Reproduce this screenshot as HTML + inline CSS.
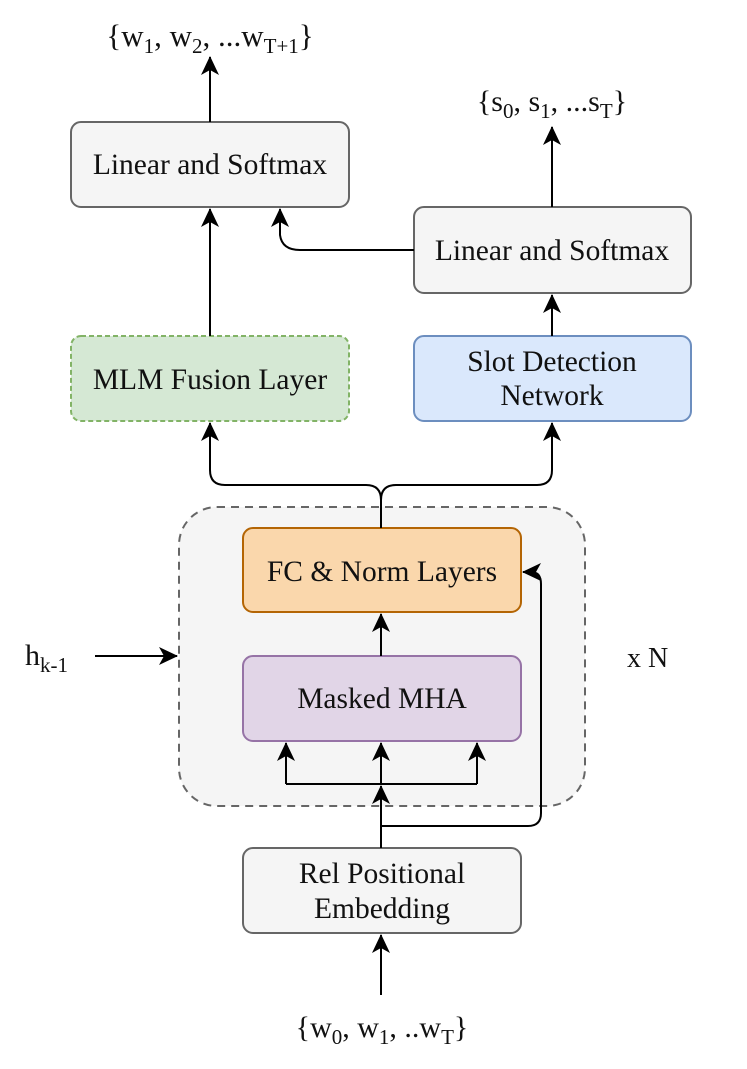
<!DOCTYPE html>
<html><head><meta charset="utf-8"><style>
body{margin:0;background:#fff;}
svg text{font-family:"Liberation Serif",serif;font-size:29.5px;fill:#111;}
</style></head><body>
<svg width="747" height="1064" viewBox="0 0 747 1064" xmlns="http://www.w3.org/2000/svg">
<defs>
<marker id="b" markerWidth="20" markerHeight="20" refX="18" refY="10" orient="auto" markerUnits="userSpaceOnUse" viewBox="0 0 20 20">
<path d="M0,1 L19,10 L0,19 L5,10 Z" fill="#000"/>
</marker>
</defs>
<rect x="179" y="507" width="406" height="299" rx="38" fill="#f5f5f5" stroke="#666" stroke-width="2" stroke-dasharray="8,6"/>
<rect x="71" y="122" width="278" height="85" rx="10" fill="#f5f5f5" stroke="#666" stroke-width="2"/>
<text x="210" y="174" text-anchor="middle" fill="#333">Linear and Softmax</text>
<rect x="414" y="207" width="277" height="86" rx="10" fill="#f5f5f5" stroke="#666" stroke-width="2"/>
<text x="552" y="260" text-anchor="middle" fill="#333">Linear and Softmax</text>
<rect x="71" y="336" width="278" height="85" rx="10" fill="#d5e8d4" stroke="#82b366" stroke-width="2" stroke-dasharray="5,3"/>
<text x="210" y="389" text-anchor="middle">MLM Fusion Layer</text>
<rect x="414" y="336" width="277" height="85" rx="10" fill="#dae8fc" stroke="#6c8ebf" stroke-width="2"/>
<text x="552" y="371" text-anchor="middle">Slot Detection</text>
<text x="552" y="405" text-anchor="middle">Network</text>
<rect x="243" y="528" width="278" height="84" rx="10" fill="#fad7ac" stroke="#b46504" stroke-width="2"/>
<text x="382" y="581" text-anchor="middle">FC &amp; Norm Layers</text>
<rect x="243" y="656" width="278" height="85" rx="10" fill="#e1d5e7" stroke="#9673a6" stroke-width="2"/>
<text x="382" y="708" text-anchor="middle">Masked MHA</text>
<rect x="243" y="848" width="278" height="85" rx="10" fill="#f5f5f5" stroke="#666" stroke-width="2"/>
<text x="382" y="883" text-anchor="middle" fill="#333">Rel Positional</text>
<text x="382" y="918" text-anchor="middle" fill="#333">Embedding</text>
<g fill="none" stroke="#000" stroke-width="2">
<path d="M210 122 V57" marker-end="url(#b)"/>
<path d="M552 207 V127" marker-end="url(#b)"/>
<path d="M210 336 V209" marker-end="url(#b)"/>
<path d="M552 336 V295" marker-end="url(#b)"/>
<path d="M414 250 H300 Q282 250 280 235 V209" marker-end="url(#b)"/>
<path d="M381 528 V500 Q381 485 366 485 H225 Q210 485 210 470 V423" marker-end="url(#b)"/>
<path d="M381 500 Q381 485 396 485 H537 Q552 485 552 470 V423" marker-end="url(#b)"/>
<path d="M381 656 V614" marker-end="url(#b)"/>
<path d="M381 848 V786" marker-end="url(#b)"/>
<path d="M381 784 V743" marker-end="url(#b)"/>
<path d="M286 784 H477"/>
<path d="M286 784 V743" marker-end="url(#b)"/>
<path d="M477 784 V743" marker-end="url(#b)"/>
<path d="M381 826 H528 Q541 826 541 813 V584 Q541 572 531 572 H523" marker-end="url(#b)"/>
<path d="M95 656 H177" marker-end="url(#b)"/>
<path d="M381 995 V935" marker-end="url(#b)"/>
</g>
<text x="210" y="46" text-anchor="middle" style="font-size:31px">{w<tspan style="font-size:21px" dy="7">1</tspan><tspan dy="-7">, w</tspan><tspan style="font-size:21px" dy="7">2</tspan><tspan dy="-7">, ...w</tspan><tspan style="font-size:21px" dy="7">T+1</tspan><tspan dy="-7">}</tspan></text>
<text x="552" y="111" text-anchor="middle" style="font-size:30px">{s<tspan style="font-size:21px" dy="7">0</tspan><tspan dy="-7">, s</tspan><tspan style="font-size:21px" dy="7">1</tspan><tspan dy="-7">, ...s</tspan><tspan style="font-size:21px" dy="7">T</tspan><tspan dy="-7">}</tspan></text>
<text x="382" y="1037" text-anchor="middle" style="font-size:30px">{w<tspan style="font-size:21px" dy="7">0</tspan><tspan dy="-7">, w</tspan><tspan style="font-size:21px" dy="7">1</tspan><tspan dy="-7">, ..w</tspan><tspan style="font-size:21px" dy="7">T</tspan><tspan dy="-7">}</tspan></text>
<text x="25" y="665" style="font-size:30px">h<tspan style="font-size:21px" dy="7">k-1</tspan></text>
<text x="627" y="667" style="font-size:28px">x N</text>
</svg>
</body></html>
